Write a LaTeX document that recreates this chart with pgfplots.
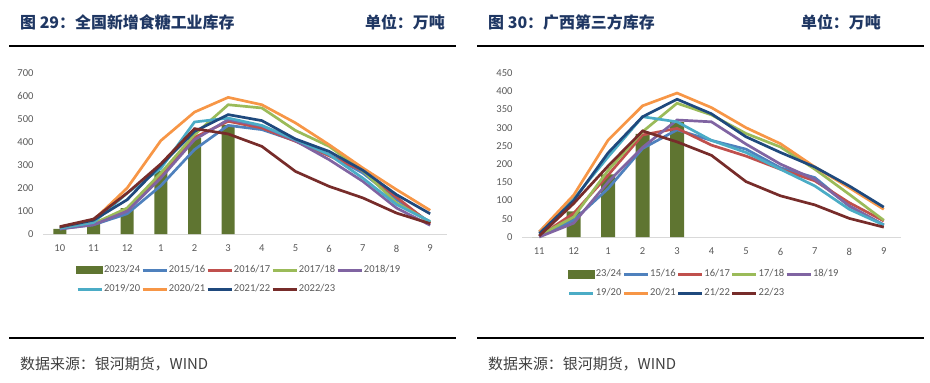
\documentclass[border=0pt]{standalone}
\usepackage{fontspec}
\setmainfont{Carlito}
\newfontfamily\cjk{Noto Sans CJK SC}
\usepackage{pgfplots}
\pgfplotsset{compat=1.18}
\definecolor{c15}{HTML}{4F81BD}
\definecolor{c16}{HTML}{C0504D}
\definecolor{c17}{HTML}{9BBB59}
\definecolor{c18}{HTML}{8064A2}
\definecolor{c19}{HTML}{4BACC6}
\definecolor{c20}{HTML}{F79646}
\definecolor{c21}{HTML}{1F497D}
\definecolor{c22}{HTML}{772C2A}
\definecolor{barcol}{HTML}{5F7531}
\definecolor{axgray}{HTML}{D9D9D9}
\definecolor{tickgray}{HTML}{595959}
\definecolor{titleblue}{HTML}{1F3763}
\definecolor{srcgray}{HTML}{404040}
\pgfplotsset{
  mystyle/.style={
    scale only axis,
    axis x line*=bottom, axis y line*=left,
    y axis line style={draw=none},
    x axis line style={draw=axgray, line width=0.9bp},
    major tick length=0pt,
    tick style={draw=none},
    /pgf/number format/assume math mode=true,
    tick label style={font=\fontsize{10.6}{12}\selectfont, text=tickgray},
    xticklabel style={yshift=-7.5bp},
    yticklabel style={xshift=-6bp},
    ymin=0,
    legend columns=5,
    legend cell align=left,
    legend style={draw=none, fill=none, inner sep=0pt, anchor=north west,
      font=\fontsize{10.6}{12}\selectfont, text=tickgray,
      nodes={inner sep=1bp, text height=7bp, text depth=2bp},
      row sep=8bp, column sep=0pt},
    legend image code/.code={\draw[##1, line width=2.8bp] (0bp,0bp) -- (24bp,0bp);},
    every axis plot/.append style={line width=2.7bp, mark=none},
    clip=false,
  },
  barleg/.style={legend image code/.code={\fill[barcol] (0bp,-3bp) rectangle (24bp,3bp);}},
}
\begin{document}
\begin{tikzpicture}[x=1bp,y=1bp]
\useasboundingbox (0,0) rectangle (930,382);
% titles and rules
\node[anchor=west, inner sep=0pt, text=titleblue, font=\cjk\bfseries\fontsize{16}{18}\selectfont] at (20,360) {图 29：全国新增食糖工业库存};
\node[anchor=east, inner sep=0pt, text=titleblue, font=\cjk\bfseries\fontsize{16}{18}\selectfont] at (445,360) {单位：万吨};
\node[anchor=west, inner sep=0pt, text=titleblue, font=\cjk\bfseries\fontsize{16}{18}\selectfont] at (488,360) {图 30：广西第三方库存};
\node[anchor=east, inner sep=0pt, text=titleblue, font=\cjk\bfseries\fontsize{16}{18}\selectfont] at (881,360) {单位：万吨};
\draw[black, line width=1.3bp] (9,336) -- (456,336);
\draw[black, line width=1.3bp] (477,336) -- (924,336);
\draw[black, line width=1.3bp] (9,44) -- (456,44);
\draw[black, line width=1.3bp] (477,44) -- (924,44);
\node[anchor=west, inner sep=0pt, text=srcgray, font=\cjk\fontsize{15}{17}\selectfont] at (20,18) {数据来源：银河期货，WIND};
\node[anchor=west, inner sep=0pt, text=srcgray, font=\cjk\fontsize{15}{17}\selectfont] at (488,18) {数据来源：银河期货，WIND};

% left chart
\begin{axis}[mystyle, at={(43bp,148bp)}, anchor=south west,
  width=404bp, height=161bp,
  xmin=-0.5, xmax=11.5, ymax=700,
  ytick={0,100,...,700},
  xtick={0,...,11}, xticklabels={10,11,12,1,2,3,4,5,6,7,8,9},
  legend style={at={(0.0817,-0.189)}},
]
\addlegendimage{barleg}\addlegendentry{2023/24}
\addplot[ybar, bar width=13bp, bar shift=0pt, fill=barcol, draw=none, forget plot] coordinates {(0,22) (1,47) (2,113) (3,275) (4,417) (5,475)};
\addplot[c15] coordinates {(0,22) (1,40) (2,88) (3,210) (4,367) (5,472) (6,454) (7,405) (8,345) (9,265) (10,150) (11,50)};
\addlegendentry{2015/16}
\addplot[c16] coordinates {(0,25) (1,45) (2,106) (3,250) (4,420) (5,490) (6,461) (7,403) (8,340) (9,275) (10,160) (11,45)};
\addlegendentry{2016/17}
\addplot[c17] coordinates {(0,25) (1,45) (2,113) (3,265) (4,432) (5,562) (6,548) (7,450) (8,381) (9,275) (10,135) (11,52)};
\addlegendentry{2017/18}
\addplot[c18] coordinates {(0,22) (1,40) (2,99) (3,243) (4,410) (5,497) (6,470) (7,405) (8,323) (9,229) (10,113) (11,38)};
\addlegendentry{2018/19}
\addplot[c19] coordinates {(0,25) (1,50) (2,178) (3,285) (4,487) (5,504) (6,472) (7,410) (8,345) (9,243) (10,128) (11,55)};
\addlegendentry{2019/20}
\addplot[c20] coordinates {(0,30) (1,60) (2,200) (3,406) (4,530) (5,594) (6,562) (7,483) (8,388) (9,287) (10,193) (11,103)};
\addlegendentry{2020/21}
\addplot[c21] coordinates {(0,30) (1,60) (2,149) (3,300) (4,446) (5,519) (6,493) (7,413) (8,359) (9,277) (10,171) (11,88)};
\addlegendentry{2021/22}
\addplot[c22] coordinates {(0,32) (1,65) (2,178) (3,305) (4,458) (5,435) (6,381) (7,272) (8,207) (9,157) (10,91) (11,45)};
\addlegendentry{2022/23}
\end{axis}

% right chart
\begin{axis}[mystyle, at={(522bp,145bp)}, anchor=south west,
  width=379bp, height=164bp,
  xmin=-0.5, xmax=10.5, ymax=450,
  ytick={0,50,...,450},
  xtick={0,...,10}, xticklabels={11,12,1,2,3,4,5,6,7,8,9},
  legend style={at={(0.121,-0.192)}},
]
\addlegendimage{barleg}\addlegendentry{23/24}
\addplot[ybar, bar width=14bp, bar shift=0pt, fill=barcol, draw=none, forget plot] coordinates {(0,0) (1,70) (2,172) (3,283) (4,316)};
\addplot[c15] coordinates {(0,2) (1,46) (2,133) (3,243) (4,294) (5,265) (6,241) (7,190) (8,163) (9,85) (10,33)};
\addlegendentry{15/16}
\addplot[c16] coordinates {(0,2) (1,65) (2,170) (3,280) (4,298) (5,252) (6,222) (7,186) (8,154) (9,94) (10,44)};
\addlegendentry{16/17}
\addplot[c17] coordinates {(0,4) (1,55) (2,183) (3,289) (4,367) (5,335) (6,284) (7,247) (8,186) (9,117) (10,46)};
\addlegendentry{17/18}
\addplot[c18] coordinates {(0,0) (1,38) (2,151) (3,246) (4,321) (5,316) (6,255) (7,200) (8,158) (9,85) (10,33)};
\addlegendentry{18/19}
\addplot[c19] coordinates {(0,14) (1,105) (2,220) (3,330) (4,316) (5,265) (6,232) (7,186) (8,140) (9,76) (10,33)};
\addlegendentry{19/20}
\addplot[c20] coordinates {(0,14) (1,115) (2,266) (3,360) (4,395) (5,355) (6,300) (7,256) (8,192) (9,135) (10,76)};
\addlegendentry{20/21}
\addplot[c21] coordinates {(0,9) (1,100) (2,231) (3,330) (4,378) (5,338) (6,275) (7,232) (8,192) (9,140) (10,82)};
\addlegendentry{21/22}
\addplot[c22] coordinates {(0,3) (1,92) (2,195) (3,291) (4,261) (5,224) (6,152) (7,113) (8,88) (9,51) (10,27)};
\addlegendentry{22/23}
\end{axis}
\end{tikzpicture}
\end{document}
